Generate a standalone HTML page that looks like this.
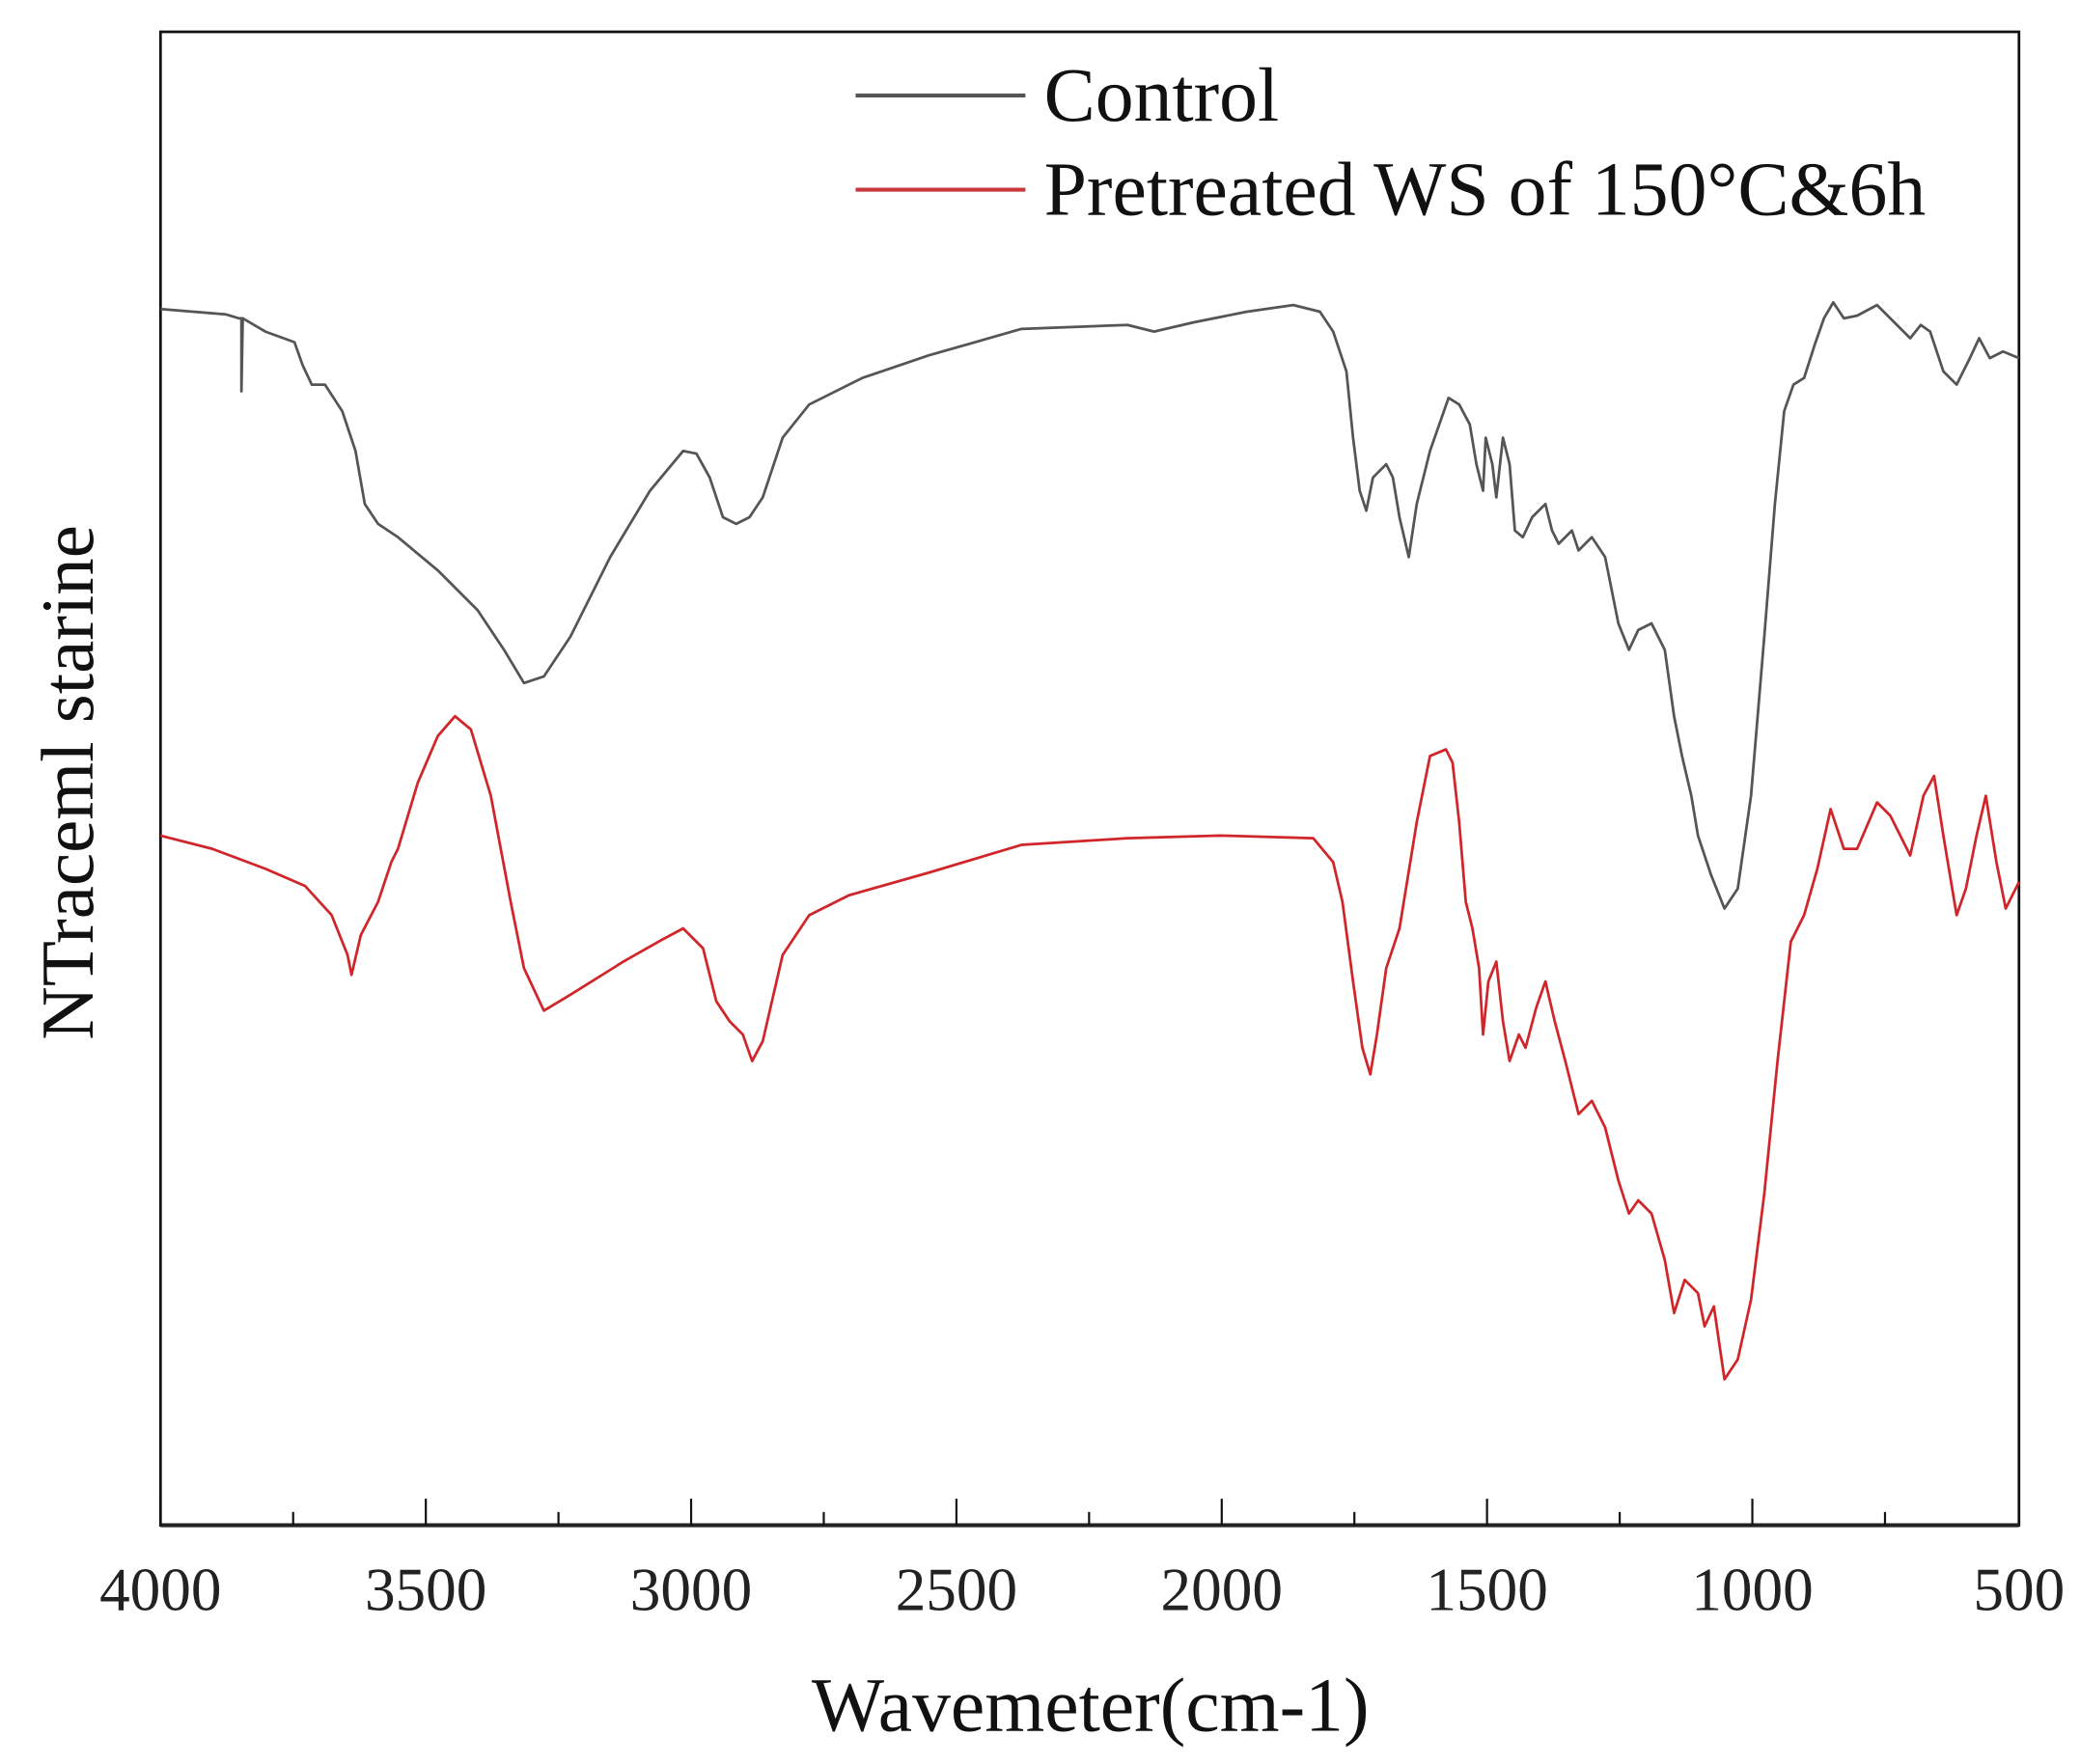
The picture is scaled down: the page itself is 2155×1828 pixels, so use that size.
<!DOCTYPE html>
<html><head><style>html,body{margin:0;padding:0;background:#fff}svg{display:block}</style></head>
<body>
<svg width="2155" height="1828" viewBox="0 0 1568 1330" preserveAspectRatio="none" xmlns="http://www.w3.org/2000/svg" font-family="Liberation Serif, serif">
<rect x="0" y="0" width="1568" height="1330" fill="#fff"/>
<rect x="121" y="24" width="1401" height="1126" fill="none" stroke="#111" stroke-width="2"/>
<line x1="121" y1="1150" x2="1522" y2="1150" stroke="#222" stroke-width="3"/>
<g stroke="#111" stroke-width="1.6">
<line x1="121" y1="1150" x2="121" y2="1130"/><line x1="221" y1="1150" x2="221" y2="1140"/>
<line x1="321" y1="1150" x2="321" y2="1130"/><line x1="421" y1="1150" x2="421" y2="1140"/>
<line x1="521" y1="1150" x2="521" y2="1130"/><line x1="621" y1="1150" x2="621" y2="1140"/>
<line x1="721" y1="1150" x2="721" y2="1130"/><line x1="821" y1="1150" x2="821" y2="1140"/>
<line x1="921" y1="1150" x2="921" y2="1130"/><line x1="1021" y1="1150" x2="1021" y2="1140"/>
<line x1="1121" y1="1150" x2="1121" y2="1130"/><line x1="1221" y1="1150" x2="1221" y2="1140"/>
<line x1="1321" y1="1150" x2="1321" y2="1130"/><line x1="1421" y1="1150" x2="1421" y2="1140"/>
</g>
<g font-size="46" text-anchor="middle" fill="#222">
<text x="121" y="1214">4000</text><text x="321" y="1214">3500</text><text x="521" y="1214">3000</text>
<text x="721" y="1214">2500</text><text x="921" y="1214">2000</text><text x="1121" y="1214">1500</text>
<text x="1321" y="1214">1000</text><text x="1522" y="1214">500</text>
</g>
<text x="822" y="1305" font-size="58" text-anchor="middle" fill="#111">Wavemeter(cm-1)</text>
<text transform="translate(70,590) rotate(-90)" font-size="56" text-anchor="middle" fill="#111">NTraceml starine</text>
<line x1="645" y1="72" x2="773" y2="72" stroke="#555" stroke-width="3"/>
<line x1="645" y1="143" x2="773" y2="143" stroke="#c8383c" stroke-width="3"/>
<text x="787" y="91" font-size="58" fill="#111">Control</text>
<text x="787" y="162" font-size="58" fill="#111">Pretreated WS of 150°C&amp;6h</text>
<polyline fill="none" stroke="#555" stroke-width="2" stroke-linejoin="round" points="121,233 170,237 180,240 182,240 182,295 183,240 200,250 222,258 228,275 235,290 245,290 258,310 268,340 275,380 285,395 300,405 330,430 360,460 380,490 395,515 410,510 430,480 460,420 490,370 515,340 525,342 535,360 545,390 555,395 565,390 575,375 590,330 610,305 650,285 700,268 770,248 850,245 870,250 900,243 940,235 975,230 995,235 1005,250 1015,280 1020,330 1025,370 1030,385 1035,360 1045,350 1050,360 1055,390 1062,420 1068,380 1078,340 1092,300 1100,305 1108,320 1113,350 1118,370 1120,330 1125,350 1128,375 1133,330 1138,350 1142,400 1148,405 1155,390 1160,385 1165,380 1170,400 1175,410 1185,400 1190,415 1200,405 1210,420 1220,470 1228,490 1235,475 1245,470 1255,490 1262,540 1268,570 1275,600 1280,630 1290,660 1300,685 1310,670 1320,600 1330,480 1338,380 1345,310 1352,290 1360,285 1368,260 1375,240 1382,228 1390,240 1400,238 1415,230 1430,245 1440,255 1448,245 1455,250 1465,280 1475,290 1485,270 1492,255 1500,270 1510,265 1522,270"/>
<polyline fill="none" stroke="#d0262a" stroke-width="2" stroke-linejoin="round" points="121,630 160,640 200,655 230,668 250,690 262,720 265,735 272,705 285,680 295,650 300,640 315,590 330,555 343,540 355,550 370,600 385,680 395,730 410,762 430,750 470,725 500,708 515,700 530,715 540,755 550,770 560,780 567,800 575,785 590,720 610,690 640,675 700,658 770,637 850,632 920,630 990,632 1005,650 1012,680 1020,740 1027,790 1033,810 1038,780 1045,730 1055,700 1068,620 1078,570 1090,565 1095,575 1100,620 1105,680 1110,700 1115,730 1118,780 1122,740 1128,725 1133,770 1138,800 1145,780 1150,790 1158,760 1165,740 1172,770 1180,800 1185,820 1190,840 1200,830 1210,850 1220,890 1228,915 1235,905 1245,915 1255,950 1262,990 1270,965 1280,975 1285,1000 1292,985 1300,1040 1310,1025 1320,980 1330,900 1340,800 1350,710 1360,690 1370,655 1380,610 1390,640 1400,640 1415,605 1425,615 1440,645 1450,600 1458,585 1465,630 1475,690 1482,670 1490,630 1497,600 1505,650 1512,685 1522,665"/>
</svg>
</body></html>
